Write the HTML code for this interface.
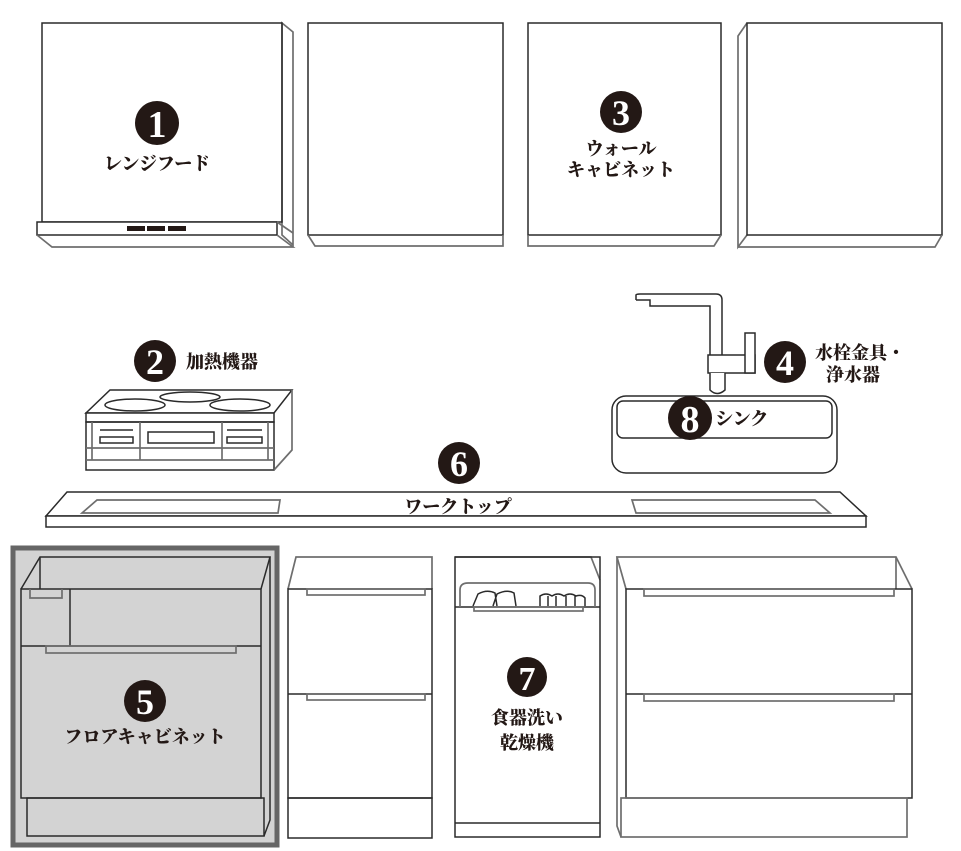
<!DOCTYPE html>
<html><head><meta charset="utf-8"><style>
html,body{margin:0;padding:0;background:#fff;width:961px;height:851px;overflow:hidden}
svg{display:block}
.l{fill:none;stroke:#2a2a2a;stroke-width:1.5}
.g{fill:none;stroke:#6e6e6e;stroke-width:1.7}
.w{fill:#fff;stroke:#2a2a2a;stroke-width:1.5}
.n{font-family:"Liberation Serif",serif;font-weight:bold;fill:#fff;text-anchor:middle}
.t{font-family:"Liberation Serif","Noto Serif CJK SC",serif;font-weight:900;fill:#231815;text-anchor:middle;font-size:18px}
.s{text-anchor:start}
</style></head><body>
<svg width="961" height="851" viewBox="0 0 961 851" xmlns="http://www.w3.org/2000/svg">
<!-- Hood -->
<polygon class="g" points="282,23 293,32 293,245 282,235"/>
<rect class="l" x="42" y="23" width="240" height="199"/>
<polygon class="w" points="37,222 277,222 277,235 37,235"/>
<polyline class="g" points="37,235 52,247 293,247 277,235"/>
<line class="g" x1="277" y1="222" x2="293" y2="233"/>
<rect x="127" y="226" width="18" height="5" fill="#231815"/>
<rect x="147" y="226" width="18" height="5" fill="#231815"/>
<rect x="168" y="226" width="18" height="5" fill="#231815"/>
<circle cx="157" cy="123" r="22" fill="#231815"/>
<text class="n" x="157" y="137" font-size="38">1</text>
<text class="t" x="157" y="170">レンジフード</text>
<!-- Upper cab 2 -->
<rect class="l" x="308" y="23" width="195" height="212"/>
<polyline class="g" points="308,235 315,246 503,246 503,235"/>
<!-- Upper cab 3 -->
<rect class="l" x="528" y="23" width="193" height="212"/>
<polyline class="g" points="528,235 528,246 714,246 721,235"/>
<circle cx="621" cy="112" r="21" fill="#231815"/>
<text class="n" x="621" y="125" font-size="36">3</text>
<text class="t" x="621" y="155" font-size="16">ウォール</text>
<text class="t" x="621" y="176" font-size="16">キャビネット</text>
<!-- Upper cab 4 -->
<polyline class="g" points="747,23 738,36 738,247 747,235"/>
<rect class="l" x="747" y="23" width="195" height="212"/>
<polyline class="g" points="738,247 935,247 942,235"/>
<!-- Cooktop -->
<polygon class="w" points="110,390 292,390 274,413 86,413"/>
<ellipse class="l" cx="135" cy="405" rx="30" ry="6"/>
<ellipse class="l" cx="190" cy="397" rx="30" ry="5"/>
<ellipse class="l" cx="240" cy="405" rx="30" ry="6"/>
<rect class="w" x="86" y="413" width="188" height="9"/>
<rect class="l" x="86" y="422" width="188" height="48"/>
<polyline class="g" points="292,390 292,450 274,470"/>
<line class="g" x1="92" y1="422" x2="92" y2="460"/>
<line class="g" x1="268" y1="422" x2="268" y2="460"/>
<line class="g" x1="140" y1="422" x2="140" y2="460"/>
<line class="g" x1="222" y1="422" x2="222" y2="460"/>
<line class="g" x1="86" y1="448" x2="274" y2="448"/>
<line class="g" x1="86" y1="460" x2="274" y2="460"/>
<line class="l" x1="100" y1="430" x2="133" y2="430"/>
<rect class="l" x="100" y="437" width="33" height="6"/>
<rect class="l" x="148" y="432" width="66" height="11"/>
<line class="l" x1="227" y1="430" x2="262" y2="430"/>
<rect class="l" x="227" y="437" width="35" height="6"/>
<circle cx="155" cy="361" r="21" fill="#231815"/>
<text class="n" x="155" y="374" font-size="36">2</text>
<text class="t s" x="186" y="368" font-size="19">加熱機器</text>
<!-- Faucet -->
<path class="l" d="M636,300 L636,295 Q636,294 640,294 L716,294 Q722,294 722,300 L722,355 M710,355 L710,306 L650,306 L650,300 L636,300"/>
<rect class="w" x="708" y="355" width="47" height="18"/>
<rect class="w" x="745" y="333" width="10" height="40"/>
<path class="w" d="M710,373 L710,390 Q717,397 725,390 L725,373"/>
<!-- Sink -->
<rect class="w" x="612" y="396" width="225" height="77" rx="14"/>
<rect class="l" x="617" y="401" width="215" height="37" rx="6"/>
<circle cx="690" cy="418" r="22" fill="#231815"/>
<text class="n" x="690" y="432" font-size="38">8</text>
<text class="t s" x="715" y="425" font-size="19">シンク</text>
<circle cx="785" cy="362" r="21" fill="#231815"/>
<text class="n" x="785" y="375" font-size="36">4</text>
<text class="t s" x="815" y="359" font-size="18">水栓金具・</text>
<text class="t s" x="826" y="381" font-size="18">浄水器</text>
<!-- Worktop -->
<polygon class="w" points="67,492 840,492 866,516 46,516"/>
<rect class="w" x="46" y="516" width="820" height="11"/>
<polygon class="g" points="97,500 280,500 278,513 82,513"/>
<polygon class="g" points="632,500 815,500 830,513 636,513"/>
<circle cx="459" cy="463" r="21" fill="#231815"/>
<text class="n" x="459" y="476" font-size="36">6</text>
<text class="t" x="458" y="513" font-size="16">ワークトップ</text>
<!-- Floor cab 5 -->
<rect x="13" y="548" width="264" height="297" fill="#d3d3d3" stroke="#666" stroke-width="5"/>
<polyline class="l" points="21,589 40,557 270,557 261,589"/>
<line class="l" x1="40" y1="557" x2="40" y2="589"/>
<rect class="l" x="21" y="589" width="240" height="209"/>
<polyline class="l" points="270,557 270,820 264,836"/>
<rect class="l" x="27" y="798" width="237" height="38"/>
<line class="l" x1="70" y1="589" x2="70" y2="646"/>
<line class="l" x1="21" y1="646" x2="261" y2="646"/>
<rect class="g" x="46" y="646" width="190" height="7"/>
<polyline class="g" points="30,589 30,598 62,598 62,589"/>
<circle cx="145" cy="701" r="21" fill="#231815"/>
<text class="n" x="145" y="714" font-size="36">5</text>
<text class="t" x="145" y="743" font-size="17">フロアキャビネット</text>
<!-- Floor cab 2 -->
<polyline class="g" points="288,589 296,557 432,557 432,589"/>
<rect class="l" x="288" y="589" width="144" height="209"/>
<line class="l" x1="288" y1="694" x2="432" y2="694"/>
<rect class="g" x="307" y="589" width="118" height="6"/>
<rect class="g" x="307" y="694" width="118" height="6"/>
<rect class="l" x="288" y="798" width="144" height="40"/>
<!-- Dishwasher -->
<polyline class="g" points="455,557 591,557 600,580"/>
<rect class="l" x="455" y="557" width="145" height="280"/>
<line class="l" x1="455" y1="607" x2="600" y2="607"/>
<path class="g" d="M460,607 L460,590 Q460,583 468,583 L588,583 Q595,583 595,590 L595,607"/>
<rect class="g" x="474" y="607" width="109" height="4"/>
<path class="l" d="M473,606 L478,594 Q487,589 495,593 L497,606 M493,606 L497,594 Q507,589 514,593 L516,606"/>
<path class="l" d="M540,606 L540,596 Q546,592 552,596 Q558,592 564,596 Q570,592 576,596 Q582,594 585,598 L585,606 M548,596 L548,606 M556,596 L556,606 M566,596 L566,606 M575,596 L575,606"/>
<line class="l" x1="455" y1="823" x2="600" y2="823"/>
<circle cx="527" cy="677" r="20" fill="#231815"/>
<text class="n" x="527" y="690" font-size="34">7</text>
<text class="t" x="527" y="724" font-size="18">食器洗い</text>
<text class="t" x="527" y="749" font-size="18">乾燥機</text>
<!-- Right floor cab -->
<polyline class="g" points="626,589 617,557 896,557 912,589"/>
<line class="g" x1="896" y1="557" x2="896" y2="589"/>
<polyline class="g" points="617,557 617,826 621,837"/>
<rect class="l" x="626" y="589" width="286" height="209"/>
<line class="l" x1="626" y1="694" x2="912" y2="694"/>
<rect class="g" x="644" y="589" width="250" height="7"/>
<rect class="g" x="644" y="694" width="250" height="7"/>
<rect class="g" x="621" y="798" width="286" height="39"/>
</svg>
</body></html>
